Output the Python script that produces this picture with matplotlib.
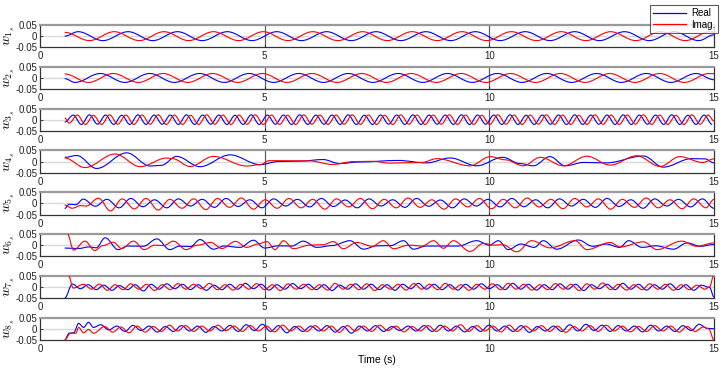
import matplotlib
matplotlib.use('Agg')
import matplotlib.pyplot as plt
from matplotlib.lines import Line2D
from matplotlib.path import Path
from matplotlib.patches import PathPatch

plt.rcParams['font.family'] = ['Liberation Sans', 'DejaVu Sans']
plt.rcParams['mathtext.fontset'] = 'cm'

# ---- data (extrema of each trace) ----
w1_re_t = [0.55, 0.85, 1.40, 1.96, 2.51, 3.06, 3.61, 4.17, 4.72, 5.27,
           5.82, 6.38, 6.93, 7.48, 8.03, 8.59, 9.14, 9.69, 10.24, 10.80,
           11.35, 11.90, 12.45, 13.01, 13.56, 14.11, 14.66, 15.0]
w1_re_v = [0.0, 0.02, -0.02, 0.02, -0.02, 0.02, -0.02, 0.02, -0.02, 0.02,
           -0.02, 0.02, -0.02, 0.02, -0.02, 0.02, -0.02, 0.02, -0.02, 0.02,
           -0.02, 0.02, -0.02, 0.02, -0.02, 0.02, -0.02, 0.006]
w1_im_t = [0.55, 1.10, 1.65, 2.21, 2.76, 3.31, 3.86, 4.42, 4.97, 5.52,
           6.07, 6.63, 7.18, 7.73, 8.28, 8.84, 9.39, 9.94, 10.49, 11.05,
           11.60, 12.15, 12.70, 13.26, 13.81, 14.36, 14.91, 15.0]
w1_im_v = [0.017, -0.02, 0.02, -0.02, 0.02, -0.02, 0.02, -0.02, 0.02, -0.02,
           0.02, -0.02, 0.02, -0.02, 0.02, -0.02, 0.02, -0.02, 0.02, -0.02,
           0.02, -0.02, 0.02, -0.02, 0.02, -0.02, 0.02, 0.019]

w2_re_t = [0.55, 0.78, 1.34, 1.89, 2.44, 2.99, 3.55, 4.10, 4.65, 5.20,
           5.76, 6.31, 6.86, 7.41, 7.97, 8.52, 9.07, 9.62, 10.18, 10.73,
           11.28, 11.83, 12.39, 12.94, 13.49, 14.04, 14.60, 15.0]
w2_re_v = [-0.003, -0.02, 0.02, -0.02, 0.02, -0.02, 0.02, -0.02, 0.02, -0.02,
           0.02, -0.02, 0.02, -0.02, 0.02, -0.02, 0.02, -0.02, 0.02, -0.02,
           0.02, -0.02, 0.02, -0.02, 0.02, -0.02, 0.02, -0.008]
w2_im_t = [0.55, 1.08, 1.63, 2.19, 2.74, 3.29, 3.84, 4.40, 4.95, 5.50,
           6.05, 6.61, 7.16, 7.71, 8.26, 8.82, 9.37, 9.92, 10.47, 11.03,
           11.58, 12.13, 12.68, 13.24, 13.79, 14.34, 14.89, 15.0]
w2_im_v = [0.018, -0.02, 0.02, -0.02, 0.02, -0.02, 0.02, -0.02, 0.02, -0.02,
           0.02, -0.02, 0.02, -0.02, 0.02, -0.02, 0.02, -0.02, 0.02, -0.02,
           0.02, -0.02, 0.02, -0.02, 0.02, -0.02, 0.02, 0.019]

w3_re_t = [0.55, 0.74, 0.92, 1.10, 1.28, 1.46, 1.64, 1.82, 2.00, 2.18,
           2.36, 2.54, 2.72, 2.90, 3.08, 3.26, 3.44, 3.62, 3.80, 3.98,
           4.16, 4.34, 4.52, 4.70, 4.88, 5.06, 5.24, 5.42, 5.60, 5.78,
           5.96, 6.14, 6.32, 6.50, 6.68, 6.86, 7.04, 7.22, 7.40, 7.58,
           7.76, 7.94, 8.12, 8.30, 8.48, 8.66, 8.84, 9.02, 9.20, 9.38,
           9.56, 9.74, 9.92, 10.10, 10.28, 10.46, 10.64, 10.82, 11.00, 11.18,
           11.36, 11.54, 11.72, 11.90, 12.08, 12.26, 12.44, 12.62, 12.80, 12.98,
           13.16, 13.34, 13.52, 13.70, 13.88, 14.06, 14.24, 14.42, 14.60, 14.78,
           14.96]
w3_re_v = [-0.010, 0.021, -0.021, 0.022, -0.020, 0.021, -0.021, 0.020, -0.021, 0.022,
           -0.021, 0.021, -0.020, 0.021, -0.021, 0.022, -0.021, 0.021, -0.020, 0.021,
           -0.021, 0.020, -0.021, 0.022, -0.021, 0.021, -0.020, 0.021, -0.021, 0.022,
           -0.021, 0.021, -0.020, 0.021, -0.021, 0.022, -0.021, 0.020, -0.021, 0.021,
           -0.020, 0.021, -0.021, 0.022, -0.021, 0.021, -0.020, 0.021, -0.021, 0.022,
           -0.021, 0.021, -0.020, 0.021, -0.021, 0.022, -0.021, 0.020, -0.021, 0.021,
           -0.020, 0.021, -0.021, 0.022, -0.021, 0.021, -0.020, 0.021, -0.021, 0.022,
           -0.021, 0.021, -0.020, 0.021, -0.021, 0.022, -0.021, 0.020, -0.021, 0.021,
           -0.021]
w3_im_t = [0.55, 0.65, 0.83, 1.01, 1.19, 1.37, 1.55, 1.73, 1.91, 2.09,
           2.27, 2.45, 2.63, 2.81, 2.99, 3.17, 3.35, 3.53, 3.71, 3.89,
           4.07, 4.25, 4.43, 4.61, 4.79, 4.97, 5.15, 5.33, 5.51, 5.69,
           5.87, 6.05, 6.23, 6.41, 6.59, 6.77, 6.95, 7.13, 7.31, 7.49,
           7.67, 7.85, 8.03, 8.21, 8.39, 8.57, 8.75, 8.93, 9.11, 9.29,
           9.47, 9.65, 9.83, 10.01, 10.19, 10.37, 10.55, 10.73, 10.91, 11.09,
           11.27, 11.45, 11.63, 11.81, 11.99, 12.17, 12.35, 12.53, 12.71, 12.89,
           13.07, 13.25, 13.43, 13.61, 13.79, 13.97, 14.15, 14.33, 14.51, 14.69,
           14.87, 15.0]
w3_im_v = [0.008, -0.015, 0.021, -0.021, 0.020, -0.021, 0.022, -0.020, 0.021, -0.021,
           0.021, -0.020, 0.022, -0.021, 0.021, -0.021, 0.020, -0.021, 0.022, -0.020,
           0.021, -0.021, 0.021, -0.020, 0.022, -0.021, 0.021, -0.021, 0.020, -0.021,
           0.022, -0.020, 0.021, -0.021, 0.021, -0.020, 0.022, -0.021, 0.021, -0.021,
           0.020, -0.021, 0.022, -0.020, 0.021, -0.021, 0.021, -0.020, 0.022, -0.021,
           0.021, -0.021, 0.020, -0.021, 0.022, -0.020, 0.021, -0.021, 0.021, -0.020,
           0.022, -0.021, 0.021, -0.021, 0.020, -0.021, 0.022, -0.020, 0.021, -0.021,
           0.021, -0.020, 0.022, -0.021, 0.021, -0.021, 0.020, -0.021, 0.022, -0.020,
           0.021, -0.005]

w4_re_t = [0.55, 0.82, 1.26, 1.93, 2.45, 2.70, 3.04, 3.56, 4.23, 4.90,
           5.30, 5.80, 6.30, 6.67, 7.10, 7.97, 8.60, 9.13, 9.72, 10.30,
           10.68, 10.98, 11.35, 11.69, 12.10, 12.60, 13.43, 13.87, 14.50, 14.80,
           15.0]
w4_re_v = [0.019, 0.027, -0.031, 0.039, -0.020, -0.017, 0.023, -0.023, 0.030, -0.014,
           0.000, 0.002, 0.009, -0.009, -0.002, 0.005, -0.006, 0.016, -0.019, 0.019,
           -0.009, -0.019, 0.022, -0.019, -0.004, -0.006, 0.025, -0.025, 0.013, 0.012,
           -0.006]
w4_im_t = [0.55, 1.00, 1.67, 2.23, 2.82, 2.95, 3.34, 3.86, 4.60, 4.90,
           5.10, 6.00, 6.50, 7.00, 7.40, 7.80, 8.50, 8.83, 9.57, 10.02,
           10.35, 10.76, 11.13, 11.65, 12.17, 12.69, 13.28, 13.80, 14.24, 14.75,
           15.0]
w4_im_v = [0.016, -0.027, 0.034, -0.023, 0.016, 0.013, -0.022, 0.023, -0.020, -0.014,
           0.004, 0.003, -0.013, 0.000, 0.001, -0.007, -0.004, 0.013, -0.019, 0.022,
           0.008, -0.019, 0.019, -0.019, 0.024, -0.016, 0.026, -0.022, 0.022, -0.004,
           0.012]

w5_re_t = [0.55, 0.65, 0.80, 0.96, 1.23, 1.49, 1.76, 2.02, 2.29, 2.55,
           2.82, 3.08, 3.35, 3.61, 3.88, 4.14, 4.41, 4.67, 4.94, 5.20,
           5.47, 5.73, 6.00, 6.26, 6.53, 6.79, 7.06, 7.32, 7.59, 7.85,
           8.12, 8.38, 8.65, 8.91, 9.18, 9.44, 9.71, 9.97, 10.24, 10.50,
           10.77, 11.03, 11.30, 11.56, 11.83, 12.09, 12.36, 12.62, 12.89, 13.15,
           13.42, 13.68, 13.95, 14.21, 14.48, 14.74, 15.00]
w5_re_v = [-0.023, -0.004, -0.006, 0.019, -0.013, 0.018, -0.020, 0.022, -0.015, 0.016,
           -0.020, 0.020, -0.012, 0.018, -0.018, 0.022, -0.014, 0.016, -0.020, 0.020,
           -0.012, 0.018, -0.016, 0.022, -0.014, 0.015, -0.020, 0.020, -0.012, 0.016,
           -0.018, 0.022, -0.013, 0.015, -0.020, 0.020, -0.012, 0.018, -0.016, 0.022,
           -0.015, 0.016, -0.020, 0.020, -0.012, 0.018, -0.018, 0.022, -0.014, 0.016,
           -0.022, 0.020, -0.012, 0.018, -0.016, 0.020, -0.022]
w5_im_t = [0.55, 0.72, 0.90, 1.03, 1.30, 1.57, 1.83, 2.10, 2.36, 2.63,
           2.89, 3.16, 3.42, 3.69, 3.95, 4.22, 4.48, 4.75, 5.01, 5.28,
           5.54, 5.81, 6.07, 6.34, 6.60, 6.87, 7.13, 7.40, 7.66, 7.93,
           8.19, 8.46, 8.72, 8.99, 9.25, 9.52, 9.78, 10.05, 10.31, 10.58,
           10.84, 11.11, 11.37, 11.64, 11.90, 12.17, 12.43, 12.70, 12.96, 13.23,
           13.49, 13.76, 14.02, 14.29, 14.55, 14.82, 15.0]
w5_im_v = [-0.008, -0.022, -0.010, -0.012, 0.023, -0.034, 0.020, -0.025, 0.022, -0.030,
           0.018, -0.022, 0.020, -0.028, 0.022, -0.018, 0.024, -0.026, 0.016, -0.022,
           0.022, -0.020, 0.018, -0.026, 0.020, -0.016, 0.022, -0.024, 0.018, -0.020,
           0.024, -0.018, 0.016, -0.026, 0.020, -0.016, 0.022, -0.024, 0.018, -0.020,
           0.024, -0.016, 0.018, -0.024, 0.022, -0.016, 0.020, -0.026, 0.018, -0.018,
           0.024, -0.020, 0.016, -0.024, 0.020, -0.020, 0.018]

w6_re_t = [0.55, 0.85, 1.10, 1.25, 1.45, 1.74, 1.95, 2.30, 2.60, 2.89,
           3.10, 3.35, 3.56, 3.86, 4.10, 4.45, 4.75, 5.00, 5.30, 5.60,
           5.86, 6.16, 6.50, 6.90, 7.20, 7.50, 7.80, 8.09, 8.31, 8.60,
           9.30, 9.72, 10.00, 10.20, 10.42, 10.70, 11.00, 11.20, 11.50, 11.98,
           12.30, 12.60, 12.90, 13.10, 13.40, 13.70, 14.10, 14.40, 14.70, 15.00]
w6_re_v = [-0.013, -0.015, -0.008, -0.012, 0.033, -0.020, -0.004, -0.005, 0.028, -0.020,
           -0.005, -0.006, 0.025, -0.018, -0.004, -0.010, 0.022, -0.013, -0.003, -0.004,
           0.018, -0.010, -0.002, 0.020, -0.018, -0.003, -0.002, 0.020, -0.018, -0.004,
           -0.004, 0.020, 0.000, 0.020, -0.020, 0.005, -0.010, 0.020, -0.018, 0.023,
           -0.005, 0.005, -0.010, 0.020, -0.010, -0.003, -0.018, 0.010, -0.005, 0.003]
w6_im_t = [0.60, 0.75, 1.00, 1.22, 1.40, 1.63, 1.82, 2.08, 2.32, 2.55,
           2.75, 2.97, 3.25, 3.50, 3.80, 4.05, 4.35, 4.60, 4.85, 5.05,
           5.23, 5.42, 5.64, 6.00, 6.30, 6.53, 6.75, 7.05, 7.40, 7.64,
           7.87, 8.20, 8.50, 8.76, 8.98, 9.20, 9.57, 9.87, 10.10, 10.30,
           10.61, 10.94, 11.35, 11.91, 12.17, 12.69, 12.91, 13.43, 13.73, 14.28,
           14.62, 15.00]
w6_im_v = [0.055, -0.022, 0.018, -0.024, -0.002, 0.013, -0.015, 0.018, -0.020, 0.000,
           -0.002, 0.018, -0.020, 0.000, 0.012, -0.015, 0.017, -0.010, 0.005, 0.016,
           -0.020, 0.020, -0.016, 0.000, 0.002, 0.016, -0.016, 0.012, -0.005, 0.020,
           -0.016, 0.000, -0.004, 0.020, -0.014, 0.020, -0.028, 0.008, 0.000, 0.002,
           -0.030, 0.020, -0.012, 0.020, -0.020, 0.012, -0.008, 0.015, -0.020, 0.018,
           -0.005, 0.010]

w7_re_t = [0.55, 0.72, 0.90, 1.07, 1.25, 1.42, 1.60, 1.77, 1.95, 2.12,
           2.30, 2.47, 2.65, 2.82, 3.00, 3.17, 3.35, 3.52, 3.70, 3.87,
           4.05, 4.22, 4.40, 4.57, 4.75, 4.92, 5.10, 5.27, 5.45, 5.62,
           5.80, 5.97, 6.15, 6.32, 6.50, 6.67, 6.85, 7.02, 7.20, 7.37,
           7.55, 7.72, 7.90, 8.07, 8.25, 8.42, 8.60, 8.77, 8.95, 9.12,
           9.30, 9.47, 9.65, 9.82, 10.00, 10.17, 10.35, 10.52, 10.70, 10.87,
           11.05, 11.22, 11.40, 11.57, 11.75, 11.92, 12.10, 12.27, 12.45, 12.62,
           12.80, 12.97, 13.15, 13.32, 13.50, 13.67, 13.85, 14.02, 14.20, 14.37,
           14.55, 14.72, 14.90, 15.0]
w7_re_v = [-0.050, 0.013, -0.008, 0.010, -0.012, 0.008, -0.015, 0.006, -0.012, 0.010,
           -0.018, 0.012, -0.010, 0.014, -0.008, 0.012, -0.012, 0.010, -0.015, 0.008,
           -0.012, 0.012, -0.010, 0.016, -0.008, 0.012, -0.014, 0.010, -0.010, 0.015,
           -0.008, 0.012, -0.012, 0.010, -0.016, 0.008, -0.010, 0.014, -0.010, 0.012,
           -0.012, 0.010, -0.015, 0.012, -0.008, 0.016, -0.010, 0.012, -0.012, 0.010,
           -0.014, 0.012, -0.010, 0.014, -0.008, 0.010, -0.012, 0.016, -0.010, 0.012,
           -0.014, 0.010, -0.012, 0.014, -0.010, 0.012, -0.016, 0.010, -0.008, 0.012,
           -0.012, 0.016, -0.010, 0.012, -0.014, 0.010, -0.010, 0.014, -0.012, 0.010,
           -0.015, 0.008, -0.002, -0.045]
w7_im_t = [0.63, 0.74, 0.97, 1.15, 1.32, 1.50, 1.67, 1.85, 2.02, 2.20,
           2.37, 2.55, 2.72, 2.90, 3.07, 3.25, 3.42, 3.60, 3.77, 3.95,
           4.12, 4.30, 4.47, 4.65, 4.82, 5.00, 5.17, 5.35, 5.52, 5.70,
           5.87, 6.05, 6.22, 6.40, 6.57, 6.75, 6.92, 7.10, 7.27, 7.45,
           7.62, 7.80, 7.97, 8.15, 8.32, 8.50, 8.67, 8.85, 9.02, 9.20,
           9.37, 9.55, 9.72, 9.90, 10.07, 10.25, 10.42, 10.60, 10.77, 10.95,
           11.12, 11.30, 11.47, 11.65, 11.82, 12.00, 12.17, 12.35, 12.52, 12.70,
           12.87, 13.05, 13.22, 13.40, 13.57, 13.75, 13.92, 14.10, 14.27, 14.45,
           14.62, 14.80, 14.90, 15.0]
w7_im_v = [0.055, -0.005, 0.012, -0.010, 0.013, -0.015, 0.010, -0.012, 0.014, -0.010,
           0.012, -0.016, 0.010, -0.012, 0.015, -0.010, 0.012, -0.008, 0.016, -0.012,
           0.010, -0.014, 0.012, -0.010, 0.015, -0.012, 0.010, -0.016, 0.014, -0.010,
           0.012, -0.012, 0.010, -0.014, 0.016, -0.010, 0.012, -0.012, 0.014, -0.016,
           0.010, -0.010, 0.012, -0.014, 0.015, -0.010, 0.012, -0.012, 0.016, -0.010,
           0.010, -0.015, 0.012, -0.010, 0.014, -0.012, 0.016, -0.010, 0.012, -0.014,
           0.010, -0.012, 0.015, -0.010, 0.012, -0.016, 0.014, -0.010, 0.018, -0.012,
           0.012, -0.014, 0.010, -0.012, 0.014, -0.010, 0.012, -0.015, 0.010, -0.012,
           0.008, -0.010, 0.000, 0.055]

w8_re_t = [0.55, 0.65, 0.75, 0.86, 0.97, 1.08, 1.19, 1.35, 1.53, 1.71,
           1.89, 2.07, 2.25, 2.43, 2.61, 2.79, 2.97, 3.15, 3.33, 3.51,
           3.69, 3.87, 4.05, 4.23, 4.41, 4.59, 4.77, 4.95, 5.13, 5.31,
           5.49, 5.67, 5.85, 6.03, 6.21, 6.39, 6.57, 6.75, 6.93, 7.11,
           7.29, 7.47, 7.65, 7.83, 8.01, 8.19, 8.37, 8.55, 8.73, 8.91,
           9.09, 9.27, 9.45, 9.63, 9.81, 9.99, 10.17, 10.35, 10.53, 10.71,
           10.89, 11.07, 11.25, 11.43, 11.61, 11.79, 11.97, 12.15, 12.33, 12.51,
           12.69, 12.87, 13.05, 13.23, 13.41, 13.59, 13.77, 13.95, 14.13, 14.31,
           14.49, 14.67, 14.85, 15.0]
w8_re_v = [-0.050, -0.020, -0.018, 0.024, 0.006, 0.029, 0.006, 0.018, -0.005, 0.012,
           -0.012, 0.015, -0.008, 0.012, -0.015, 0.010, -0.012, 0.014, -0.010, 0.012,
           -0.016, 0.010, -0.010, 0.015, -0.012, 0.018, -0.008, 0.020, -0.012, 0.014,
           -0.018, 0.010, -0.012, 0.012, -0.010, 0.014, -0.015, 0.010, -0.020, 0.012,
           -0.010, 0.014, -0.012, 0.010, -0.008, 0.012, -0.010, 0.014, -0.012, 0.016,
           -0.010, 0.012, -0.014, 0.010, -0.012, 0.016, -0.010, 0.012, -0.012, 0.014,
           -0.016, 0.010, -0.010, 0.012, -0.012, 0.018, -0.010, 0.020, -0.008, 0.016,
           -0.012, 0.014, -0.010, 0.012, -0.014, 0.016, -0.010, 0.012, -0.012, 0.014,
           -0.008, 0.020, 0.002, 0.000]
w8_im_t = [0.55, 0.68, 0.80, 0.86, 0.97, 1.08, 1.19, 1.44, 1.62, 1.80,
           1.98, 2.16, 2.34, 2.52, 2.70, 2.88, 3.06, 3.24, 3.42, 3.60,
           3.78, 3.96, 4.14, 4.32, 4.50, 4.68, 4.86, 5.04, 5.22, 5.40,
           5.58, 5.76, 5.94, 6.12, 6.30, 6.48, 6.66, 6.84, 7.02, 7.20,
           7.38, 7.56, 7.74, 7.92, 8.10, 8.28, 8.46, 8.64, 8.82, 9.00,
           9.18, 9.36, 9.54, 9.72, 9.90, 10.08, 10.26, 10.44, 10.62, 10.80,
           10.98, 11.16, 11.34, 11.52, 11.70, 11.88, 12.06, 12.24, 12.42, 12.60,
           12.78, 12.96, 13.14, 13.32, 13.50, 13.68, 13.86, 14.04, 14.22, 14.40,
           14.58, 14.76, 14.88, 15.0]
w8_im_v = [-0.050, -0.020, -0.020, 0.006, -0.018, -0.003, -0.020, 0.010, -0.015, 0.008,
           -0.018, 0.012, -0.015, 0.010, -0.012, 0.016, -0.010, 0.014, -0.012, 0.012,
           -0.010, 0.016, -0.008, 0.012, -0.012, 0.014, -0.010, 0.012, -0.014, 0.016,
           -0.010, 0.012, -0.012, 0.014, -0.010, 0.012, -0.016, 0.014, -0.010, 0.012,
           -0.012, 0.016, -0.008, 0.012, -0.014, 0.010, -0.010, 0.014, -0.012, 0.012,
           -0.010, 0.018, -0.012, 0.014, -0.010, 0.012, -0.014, 0.016, -0.012, 0.012,
           -0.010, 0.014, -0.012, 0.012, -0.016, 0.010, -0.010, 0.014, -0.012, 0.016,
           -0.010, 0.012, -0.014, 0.010, -0.012, 0.014, -0.010, 0.012, -0.015, 0.010,
           -0.012, 0.008, 0.000, -0.050]

series = [
    (w1_re_t, w1_re_v, w1_im_t, w1_im_v),
    (w2_re_t, w2_re_v, w2_im_t, w2_im_v),
    (w3_re_t, w3_re_v, w3_im_t, w3_im_v),
    (w4_re_t, w4_re_v, w4_im_t, w4_im_v),
    (w5_re_t, w5_re_v, w5_im_t, w5_im_v),
    (w6_re_t, w6_re_v, w6_im_t, w6_im_v),
    (w7_re_t, w7_re_v, w7_im_t, w7_im_v),
    (w8_re_t, w8_re_v, w8_im_t, w8_im_v),
]

x_ticks = [0, 5, 10, 15]
y_ticks = [-0.05, 0, 0.05]
y_ticklabels = ['-0.05', '0', '0.05']


def smooth_trace(ax, t, v, color):
    # draw the trace through its extrema with flat-tangent bezier segments
    verts = [(t[0], v[0])]
    codes = [Path.MOVETO]
    for k in range(1, len(t)):
        dt = t[k] - t[k - 1]
        verts += [(t[k - 1] + 0.36 * dt, v[k - 1]),
                  (t[k] - 0.36 * dt, v[k]),
                  (t[k], v[k])]
        codes += [Path.CURVE4] * 3
    patch = PathPatch(Path(verts, codes), facecolor='none', edgecolor=color,
                      lw=0.8, transform=ax.transData, zorder=3)
    ax.add_patch(patch)


# ---- figure ----
W, H = 723, 372
fig = plt.figure(figsize=(W / 100, H / 100), dpi=100)

left_px, width_px = 40, 674
top_px, step_px, h_px = 25, 41.8, 22.3

axes = []
for i, (tr, vr, ti, vi) in enumerate(series):
    top = top_px + i * step_px
    ax = fig.add_axes([left_px / W, 1 - (top + h_px) / H, width_px / W, h_px / H])
    ax.axhline(0, color='#d8d8d8', lw=1.0, zorder=0)
    for xv in [5, 10]:
        ax.axvline(xv, color='#606060', lw=0.9, zorder=1)
    smooth_trace(ax, tr, vr, '#0000ff')
    smooth_trace(ax, ti, vi, '#ff0000')
    ax.set_xlim(0, 15)
    ax.set_ylim(-0.05, 0.05)
    ax.set_xticks(x_ticks)
    ax.set_xticklabels([str(v) for v in x_ticks])
    ax.set_yticks(y_ticks)
    ax.set_yticklabels(y_ticklabels)
    ax.tick_params(direction='in', length=2, width=0.6, labelsize=7,
                   pad=2, colors='#222222')
    ax.tick_params(axis='x', pad=3)
    ax.spines['top'].set_color('#9a9a9a')
    ax.spines['top'].set_linewidth(1.6)
    for s in ['bottom', 'left', 'right']:
        ax.spines[s].set_color('#333333')
        ax.spines[s].set_linewidth(0.9)
    ax.set_ylabel(r'$w_{%d_s}$' % (i + 1), fontsize=10)
    ax.yaxis.set_label_coords(-23 / width_px, 0.5)
    axes.append(ax)

axes[-1].set_xlabel('Time (s)', fontsize=7.5, labelpad=1)

handles = [Line2D([], [], color='#0000ff', lw=0.9),
           Line2D([], [], color='#ff0000', lw=0.9)]
leg = fig.legend(handles, ['Real', 'Imag.'], loc='upper right',
                 bbox_to_anchor=(718 / W, 1 - 5 / H), fontsize=7,
                 frameon=True, fancybox=False, edgecolor='#333333',
                 handlelength=3.4, handletextpad=0.5, labelspacing=0.2,
                 borderpad=0.3, borderaxespad=0)
leg.get_frame().set_linewidth(0.8)
leg.set_zorder(10)

fig.savefig('out.png', dpi=100)
